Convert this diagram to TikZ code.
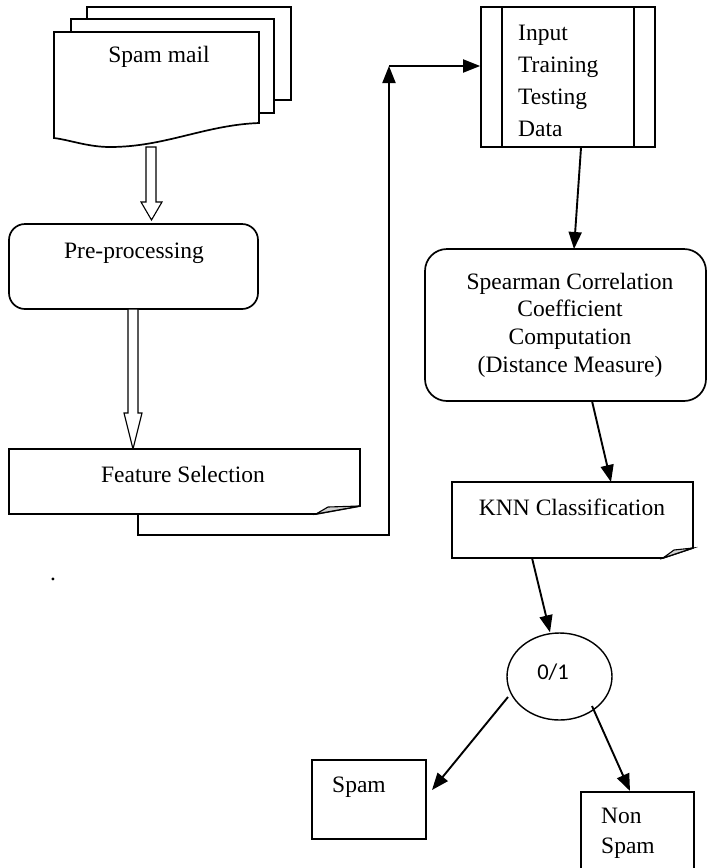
\documentclass[tikz,border=0pt]{standalone}
\usepackage{fontspec}
\setmainfont{Liberation Serif}
\newfontfamily\calib{Carlito}
\usetikzlibrary{arrows.meta,shapes.geometric}
\begin{document}
\begin{tikzpicture}[x=1pt,y=-1pt,
  ln/.style={line width=1.7pt},
  arr/.style={line width=1.9pt,-{Triangle[length=17pt,width=13pt]}},
  hollow/.style={line width=1.1pt,fill=white},
  page/.style={line width=1.7pt,fill=white},
  txt/.style={font=\fontsize{23.5}{28}\selectfont,inner sep=0pt},
  fold/.style={line width=1.1pt,fill=gray!35},
  sqbox/.style={draw,line width=1.7pt,rectangle,inner sep=0pt},
]
\useasboundingbox (0,0) rectangle (707,868);

% ---- Spam mail (multi-document) ----
\draw[page] (87,7) rectangle (291,100);
\draw[page] (71,19) rectangle (274,113);
\draw[page] (54,32) -- (259,32) -- (259,123)
  .. controls (205,125) and (165,147) .. (110,147)
  .. controls (88,147) and (70,140) .. (54,138) -- cycle;
\node[txt,anchor=base] (mail) at (159,62) {Spam mail};
\coordinate (mailb) at (151,147);

% ---- hollow arrow 1 ----
\draw[hollow] (146,147) -- (156,147) -- (156,202) -- (162,202) -- (151.5,220)
  -- (141,202) -- (146,202) -- cycle;

% ---- Pre-processing ----
\draw[ln,rounded corners=16pt] (9,224) rectangle (258,309);
\node[txt,anchor=base] (pre) at (134,258) {Pre-processing};

% ---- hollow arrow 2 ----
\draw[hollow] (128,309) -- (138,309) -- (138,413) -- (142,413) -- (133,449)
  -- (124,413) -- (128,413) -- cycle;

% ---- Feature Selection ----
\draw[ln,fill=white] (9,449) -- (360,449) -- (360,506) -- (316,514) -- (9,514) -- cycle;
\draw[fold] (316,514) -- (360,506) -- (328,507) -- cycle;
\node[txt,anchor=base] (fs) at (183,482) {Feature Selection};
\coordinate (fsb) at (138,514);
\coordinate (turn) at (389,535);
\coordinate (up) at (389,66);

% ---- Input box ----
\node[sqbox,minimum width=174pt,minimum height=140pt] (inp) at (568,77) {};
\draw[ln] (502,7) -- (502,147);
\draw[ln] (634,7) -- (634,147);
\node[txt,anchor=base west] (in1) at (518,40) {Input};
\node[txt,anchor=base west] (in2) at (518,72) {Training};
\node[txt,anchor=base west] (in3) at (518,104) {Testing};
\node[txt,anchor=base west] (in4) at (518,136) {Data};

% ---- connector FS -> Input ----
\draw[arr] (fsb) -- (fsb |- turn) -- (turn) -- (up);
\draw[arr] (up) -- (up -| inp.west);

% ---- Spearman ----
\draw[ln,rounded corners=22pt] (425,249) rectangle (706,401);
\node[txt,anchor=base] (sp1) at (570,289) {Spearman Correlation};
\node[txt,anchor=base] (sp2) at (570,316) {Coefficient};
\node[txt,anchor=base] (sp3) at (570,344) {Computation};
\node[txt,anchor=base] (sp4) at (570,372) {(Distance Measure)};
\coordinate (spt) at (574,249);
\coordinate (spb) at (592,401);
\draw[arr] (inp.south -| 581,0) -- (spt);

% ---- KNN ----
\draw[ln,fill=white] (452,482) -- (693,482) -- (693,548) -- (663,558) -- (452,558) -- cycle;
\draw[fold] (663,558) -- (693,548) -- (674,550) -- cycle;
\node[txt,anchor=base] (knn) at (572,515) {KNN Classification};
\coordinate (knnt) at (611,482);
\coordinate (knnb) at (532,558);
\draw[arr] (spb) -- (knnt);

% ---- decision ellipse ----
\node[draw,line width=1.4pt,ellipse,minimum width=105pt,minimum height=87pt,inner sep=0pt] (dec) at (559.5,676.5) {};
\node[font=\calib\fontsize{22.5}{26}\selectfont,inner sep=0pt] (dectxt) at (553,672) {0/1};
\draw[arr] (knnb) -- (dec.north -| 550,0);

% ---- outputs ----
\node[sqbox,minimum width=114pt,minimum height=79pt,anchor=north west] (spam) at (311,759) {};
\node[txt,anchor=base west] (spamt) at (332,792) {Spam};
\node[sqbox,minimum width=113pt,minimum height=90pt,anchor=north west] (non) at (580,791) {};
\node[txt,anchor=base west] (non1) at (601,823) {Non};
\node[txt,anchor=base west] (non2) at (601,853) {Spam};
\coordinate (decl) at (508,697);
\coordinate (decr) at (592,706);
\coordinate (spamend) at (432,790);
\draw[arr] (decl) -- (spamend);
\draw[arr] (decr) -- (non.north -| 630,0);

% stray dot
\node[txt,anchor=base] (dot) at (53,580) {.};
\end{tikzpicture}
\end{document}
